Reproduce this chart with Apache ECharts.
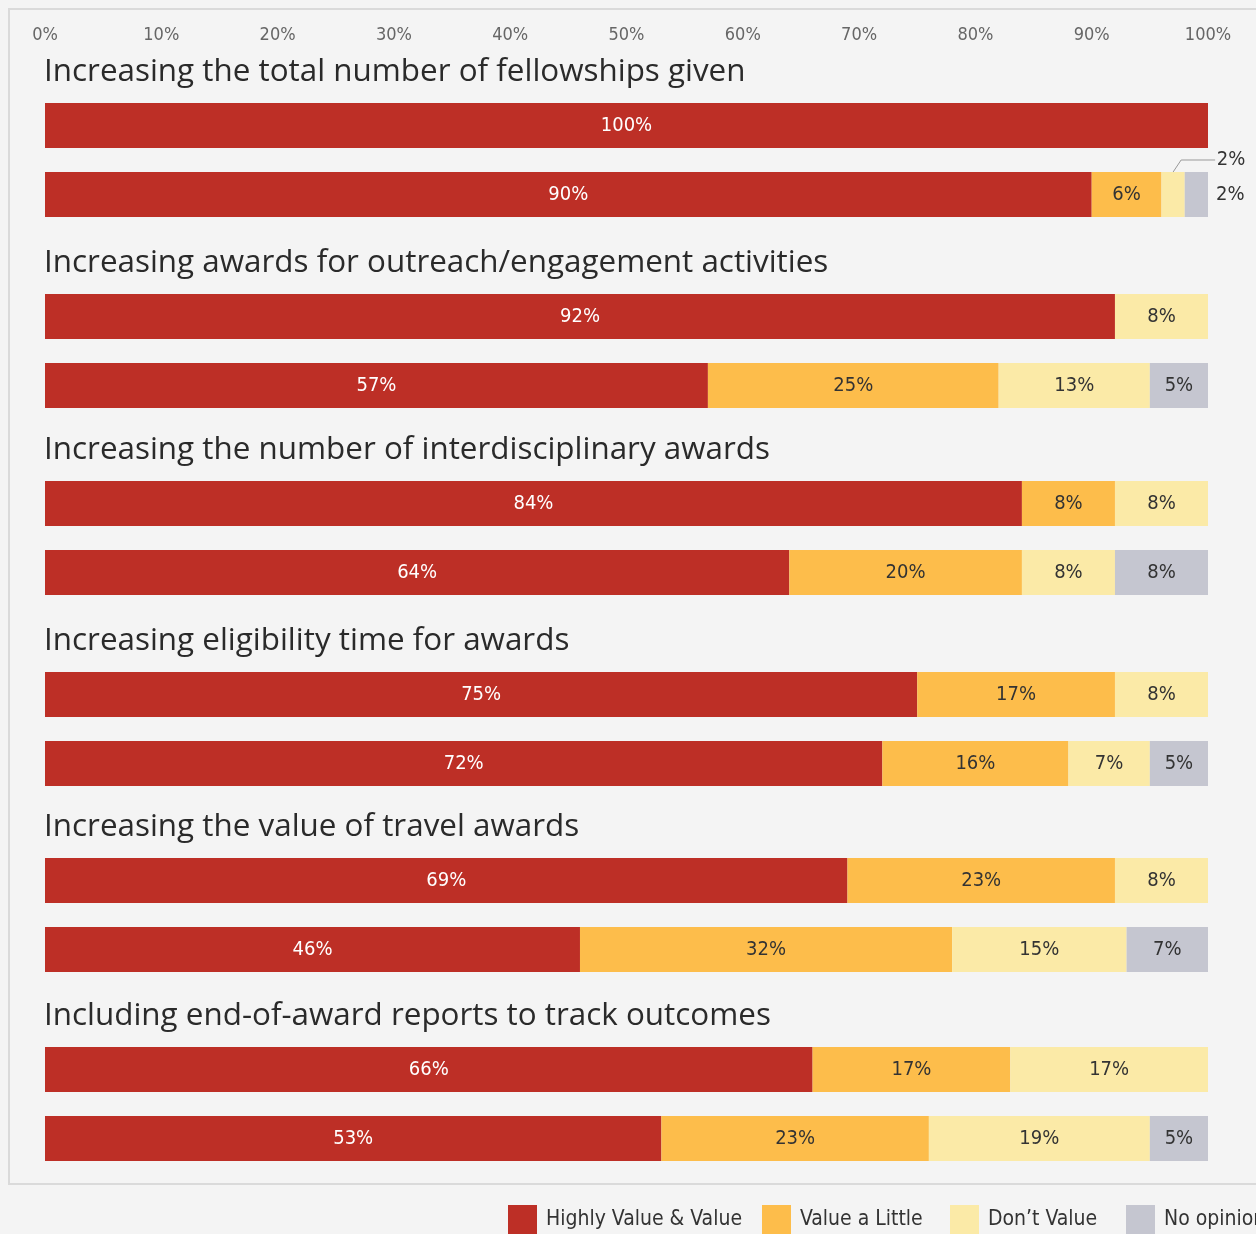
<!DOCTYPE html>
<html><head><meta charset="utf-8">
<script src="https://cdn.jsdelivr.net/npm/echarts@6/dist/echarts.min.js"></script>
<style>html,body{margin:0;padding:0;background:#f4f4f4}#c{width:1256px;height:1234px}</style>
</head><body><div id="c"></div>
<script>
// ---- data ----
const groupTitles = [
  'Increasing the total number of fellowships given',
  'Increasing awards for outreach/engagement activities',
  'Increasing the number of interdisciplinary awards',
  'Increasing eligibility time for awards',
  'Increasing the value of travel awards',
  'Including end-of-award reports to track outcomes'
];
const rowNames = ['A', 'B'];
const seriesNames = ['Highly Value & Value', 'Value a Little', 'Don\u2019t Value', 'No opinion'];
const highly    = [100, 90, 92, 57, 84, 64, 75, 72, 69, 46, 66, 53];
const little    = [0,   6,  0,  25, 8,  20, 17, 16, 23, 32, 17, 23];
const dontValue = [0,   2,  8,  13, 8,  8,  8,  7,  8,  15, 17, 19];
const noOpinion = [0,   2,  0,  5,  0,  8,  0,  5,  0,  7,  0,  5];
const tickMax = 100, tickStep = 10;

// ---- styling / layout ----
const colors = ['#bd2f26', '#fdbd4b', '#fbeaa7', '#c5c6d0'];
const labelColors = ['#ffffff', '#333333', '#333333', '#333333'];
const narrow = '"DejaVu Sans Condensed", "Liberation Sans Narrow", sans-serif';
const barCenters = [125.5, 316.5, 503.5, 694.5, 880.5, 1069.5];
const rowPitch = 69;
const legendLefts = [508, 762, 950, 1126];

const allValues = [highly, little, dontValue, noOpinion];
const grids = [], xAxes = [], yAxes = [], series = [], titles = [];

barCenters.forEach((c, g) => {
  grids.push({ left: 45, right: 48, top: c - rowPitch / 2, height: rowPitch * 2 });
  xAxes.push({
    gridIndex: g, type: 'value', min: 0, max: tickMax, interval: tickStep,
    position: 'top',
    axisLine: { show: false }, axisTick: { show: false }, splitLine: { show: false },
    axisLabel: g === 0 ? { show: true, margin: 47, formatter: v => v + '%', color: '#666', fontSize: 18, fontFamily: narrow } : { show: false }
  });
  yAxes.push({
    gridIndex: g, type: 'category', data: rowNames, inverse: true,
    axisLine: { show: false }, axisTick: { show: false }, axisLabel: { show: false }, splitLine: { show: false }
  });
  titles.push({
    text: groupTitles[g], left: 44, top: c - 56 - 17, padding: 0,
    textStyle: { fontFamily: '"Open Sans", "Noto Sans", sans-serif', fontWeight: 'normal', fontSize: 31.4, color: '#2a2a2a', lineHeight: 40 }
  });
  allValues.forEach((arr, s) => {
    const data = [arr[2 * g], arr[2 * g + 1]].map((v) => {
      const item = { value: v };
      if (v > 0 && v <= 2) {
        item.label = { position: 'right', distance: 8, color: '#333' };
      }
      return item;
    });
    series.push({
      type: 'bar', name: seriesNames[s], xAxisIndex: g, yAxisIndex: g,
      stack: 'g' + g, barWidth: 45, data: data,
      itemStyle: { color: colors[s] },
      emphasis: { disabled: true },
      silent: true,
      label: {
        show: true, position: 'inside', color: labelColors[s],
        fontSize: 20, fontFamily: narrow,
        formatter: p => (p.value > 0 ? p.value + '%' : '')
      },
      labelLayout: (s === 2) ? function (p) {
        if (p.dataIndex === 1 && g === 0) {
          return { dx: 24, dy: -35 };
        }
        return {};
      } : undefined
    });
  });
});

const legends = seriesNames.map((n, i) => ({
  data: [n], left: legendLefts[i], top: 1205, padding: 0,
  icon: 'rect', itemWidth: 29, itemHeight: 29,
  textStyle: { fontFamily: narrow, fontSize: 21, color: '#333', padding: [0, 0, 0, 4] },
  selectedMode: false
}));

const chart = echarts.init(document.getElementById('c'), null, { renderer: 'canvas' });
chart.setOption({
  backgroundColor: '#f4f4f4',
  animation: false,
  title: titles,
  grid: grids,
  xAxis: xAxes,
  yAxis: yAxes,
  series: series,
  legend: legends
});

// leader line for the small 2% label (computed through the axes)
const segStart = highly[1] + little[1];
const pCenter = chart.convertToPixel({ xAxisIndex: 0, yAxisIndex: 0 }, [segStart + dontValue[1] / 2, rowNames[1]]);
const yTop = pCenter[1] - 22.5;
chart.setOption({
  graphic: [
    { type: 'rect', z: -10, silent: true, shape: { x: 9, y: 9, width: 1262, height: 1175 },
      style: { fill: 'none', stroke: '#dadada', lineWidth: 2 } },
    { type: 'polyline', silent: true, shape: { points: [[pCenter[0], yTop], [pCenter[0] + 8, yTop - 12], [pCenter[0] + 42, yTop - 12]] },
      style: { stroke: '#999', lineWidth: 1, fill: 'none' } }
  ]
});
</script></body></html>
